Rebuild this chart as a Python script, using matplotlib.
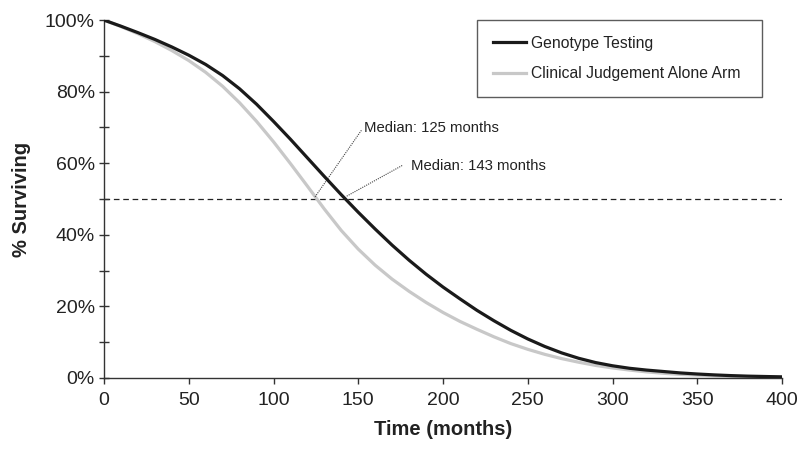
import matplotlib
matplotlib.use("Agg")
import matplotlib.pyplot as plt
from matplotlib.ticker import MultipleLocator, FuncFormatter

plt.rcParams['font.family'] = ['Liberation Sans', 'DejaVu Sans']

months = [0, 10, 20, 30, 40, 50, 60, 70, 80, 90, 100, 110, 120, 130, 140, 150,
          160, 170, 180, 190, 200, 210, 220, 230, 240, 250, 260, 270, 280, 290,
          300, 310, 320, 330, 340, 350, 360, 370, 380, 390, 400]

genotype = [100, 98.3, 96.5, 94.6, 92.5, 90.2, 87.6, 84.5, 80.8, 76.5, 71.7,
            66.7, 61.5, 56.3, 51.2, 46.3, 41.6, 37.1, 32.9, 29.0, 25.4, 22.1,
            18.9, 16.0, 13.3, 10.9, 8.8, 7.0, 5.5, 4.3, 3.4, 2.7, 2.2, 1.8,
            1.4, 1.1, 0.85, 0.65, 0.5, 0.4, 0.3]

clinical = [100, 98.2, 96.2, 94.0, 91.5, 88.7, 85.4, 81.5, 76.9, 71.7, 66.0,
            59.9, 53.6, 47.2, 41.2, 36.0, 31.5, 27.6, 24.2, 21.1, 18.3, 15.8,
            13.6, 11.5, 9.6, 8.0, 6.6, 5.4, 4.4, 3.5, 2.8, 2.2, 1.7, 1.3, 1.0,
            0.8, 0.6, 0.45, 0.35, 0.3, 0.2]

series_labels = ["Genotype Testing", "Clinical Judgement Alone Arm"]
median_line = 50
median_texts = ["Median: 125 months", "Median: 143 months"]

fig = plt.figure(figsize=(8, 4.57), dpi=100)
ax = fig.add_axes([0.13, 0.173, 0.8475, 0.783])

ax.plot(months, genotype, color='#1a1a1a', lw=2.3, label=series_labels[0], zorder=3,
        solid_joinstyle='round')
ax.plot(months, clinical, color='#c8c8c8', lw=2.3, label=series_labels[1], zorder=2,
        solid_joinstyle='round')
ax.axhline(median_line, color='#222222', lw=0.9, ls=(0, (4.5, 3)), zorder=1)

# leader lines + labels
ax.plot([124.5, 152], [50.6, 69.3], color='#444444', lw=0.8, ls=(0, (1, 1)))
ax.text(153.5, 69.8, median_texts[0], fontsize=10.7, color='#222222', va='center', ha='left')
ax.plot([143.2, 176.4], [50.8, 59.5], color='#444444', lw=0.8, ls=(0, (1, 1)))
ax.text(181, 59.2, median_texts[1], fontsize=10.7, color='#222222', va='center', ha='left')

ax.set_xlim(0, 400)
ax.set_ylim(0, 100)
ax.xaxis.set_major_locator(MultipleLocator(50))
ax.yaxis.set_major_locator(MultipleLocator(20))
ax.yaxis.set_minor_locator(MultipleLocator(10))
ax.yaxis.set_major_formatter(FuncFormatter(lambda v, p: f"{int(v)}%"))

for s in ['top', 'right']:
    ax.spines[s].set_visible(False)
for s in ['left', 'bottom']:
    ax.spines[s].set_color('#333333')
    ax.spines[s].set_linewidth(1.0)

ax.tick_params(axis='x', direction='out', length=4, width=1, color='#333333',
               labelsize=14, labelcolor='#222222', pad=6)
ax.tick_params(axis='y', which='both', direction='inout', length=7, width=1,
               color='#333333', labelsize=14, labelcolor='#222222', pad=3)

ax.set_xlabel("Time (months)", fontsize=14.5, fontweight='bold', color='#222222', labelpad=8)
ax.set_ylabel("% Surviving", fontsize=14.5, fontweight='bold', color='#222222', labelpad=10)

leg = ax.legend(loc='upper left', bbox_to_anchor=(0.55, 1.0, 0.42, 0.0), mode='expand',
                fontsize=11.3, frameon=True, fancybox=False, handlelength=2.1,
                handletextpad=0.35, borderpad=1.0, labelspacing=1.0, borderaxespad=0)
leg.get_frame().set_edgecolor('#333333')
leg.get_frame().set_linewidth(1.0)
for t in leg.get_texts():
    t.set_color('#222222')

fig.savefig("out.png", dpi=100)
